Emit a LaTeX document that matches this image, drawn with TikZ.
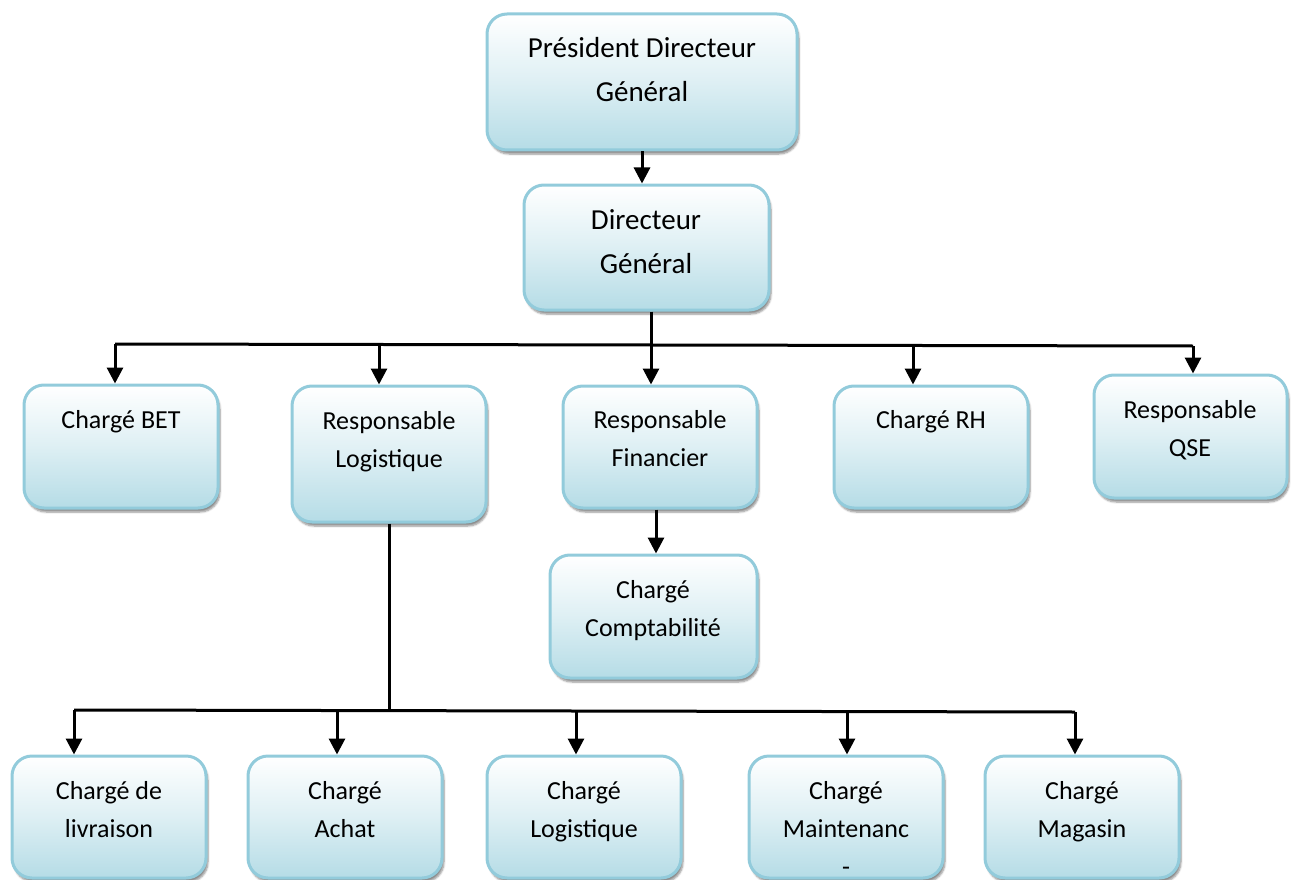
\documentclass[tikz,border=0pt]{standalone}
\usepackage{fontspec}
\setmainfont{Carlito}
\usetikzlibrary{arrows.meta,shadows.blur}
\definecolor{boxline}{HTML}{92CBDB}
\definecolor{boxbot}{HTML}{B5DCE6}
\tikzset{
  box/.style={draw=boxline, line width=3pt, rounded corners=20pt,
    top color=white, bottom color=boxbot, middle color=boxbot!45!white,
    blur shadow={shadow xshift=2pt, shadow yshift=-4pt, shadow blur steps=6, shadow opacity=45},
    inner sep=0pt},
  lbl/.style={inner sep=0pt, anchor=north, align=center, font=\fontsize{26}{38}\selectfont},
  biglbl/.style={inner sep=0pt, anchor=north, align=center, font=\fontsize{29}{44}\selectfont},
  wire/.style={line width=3pt, black},
  arr/.style={wire, -{Triangle[length=16pt,width=16pt]}},
}
\begin{document}
\begin{tikzpicture}[x=1pt,y=-1pt]
\useasboundingbox (0,0) rectangle (1296,880);
% boxes
\node[box, minimum width=310pt, minimum height=136pt] (pdg) at (642,82) {};
\node[box, minimum width=245pt, minimum height=125pt] (dg) at (646.5,247.5) {};
\node[box, minimum width=194pt, minimum height=123pt] (bet) at (121,446.5) {};
\node[box, minimum width=194pt, minimum height=136pt] (rl) at (389,454) {};
\node[box, minimum width=194pt, minimum height=122pt] (rf) at (660,447) {};
\node[box, minimum width=194pt, minimum height=122pt] (rh) at (931,447) {};
\node[box, minimum width=193pt, minimum height=123pt] (qse) at (1190.5,436.5) {};
\node[box, minimum width=207pt, minimum height=123pt] (cpt) at (653.5,616.5) {};
\node[box, minimum width=194pt, minimum height=122pt] (liv) at (109,817) {};
\node[box, minimum width=194pt, minimum height=122pt] (ach) at (345,817) {};
\node[box, minimum width=194pt, minimum height=122pt] (log) at (584,817) {};
\node[box, minimum width=194pt, minimum height=122pt] (mai) at (846,817) {};
\node[box, minimum width=194pt, minimum height=122pt] (mag) at (1082,817) {};
% texts
\node[biglbl] (tpdg) at (642,37) {Président Directeur\\Général};
\node[biglbl] (tdg) at (646,209) {Directeur\\Général};
\node[lbl] (tbet) at (121,410) {Chargé BET};
\node[lbl] (trl) at (389,411) {Responsable\\Logistique};
\node[lbl] (trf) at (660,410) {Responsable\\Financier};
\node[lbl] (trh) at (931,410) {Chargé RH};
\node[lbl] (tqse) at (1190,400) {Responsable\\QSE};
\node[lbl] (tcpt) at (653,580) {Chargé\\Comptabilité};
\node[lbl] (tliv) at (109,781) {Chargé de\\livraison};
\node[lbl] (tach) at (345,781) {Chargé\\Achat};
\node[lbl] (tlog) at (584,781) {Chargé\\Logistique};
\node[lbl] (tmai) at (846,781) {Chargé\\Maintenanc\\-};
\node[lbl] (tmag) at (1082,781) {Chargé\\Magasin};
% bus coordinates
\coordinate (h1) at (115,344);
\coordinate (h2) at (379,344);
\coordinate (h3) at (651,345);
\coordinate (h4) at (913,345);
\coordinate (h5) at (1193,346);
\coordinate (v1) at (74,710);
\coordinate (v2) at (337,710);
\coordinate (v3) at (389,711);
\coordinate (v4) at (576,711);
\coordinate (v5) at (847,711);
\coordinate (v6) at (1075,712);
\coordinate (cf) at (656,0);
% connectors
\draw[arr] (pdg.south) -- (pdg.south |- dg.north);
\draw[wire] (h1) -- (h5);
\draw[arr] (dg.south -| h3) -- (h3 |- rf.north);
\draw[arr] (h1) -- (h1 |- bet.north);
\draw[arr] (h2) -- (h2 |- rl.north);
\draw[arr] (h4) -- (h4 |- rh.north);
\draw[arr] (h5) -- (h5 |- qse.north);
\draw[arr] (rf.south -| cf) -- (cf |- cpt.north);
\draw[wire] (rl.south -| v3) -- (v3);
\draw[wire] (v1) -- (v6);
\draw[arr] (v1) -- (v1 |- liv.north);
\draw[arr] (v2) -- (v2 |- ach.north);
\draw[arr] (v4) -- (v4 |- log.north);
\draw[arr] (v5) -- (v5 |- mai.north);
\draw[arr] (v6) -- (v6 |- mag.north);
\end{tikzpicture}
\end{document}
